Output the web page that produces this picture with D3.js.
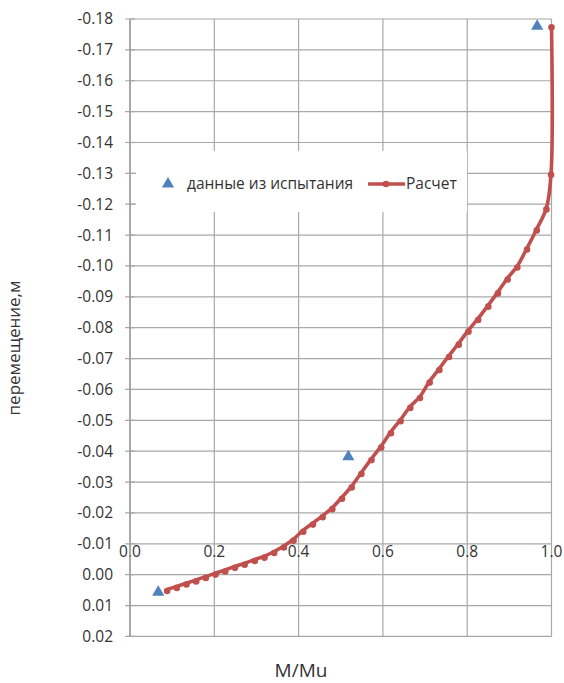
<!DOCTYPE html>
<html><head><meta charset="utf-8">
<script src="https://cdn.jsdelivr.net/npm/d3@7"></script>
<style>
body{margin:0;background:#fff}
svg{display:block}
text{font-family:"Open Sans",sans-serif;fill:#333}
</style>
</head><body>
<svg id="c" width="564" height="683"></svg>
<script>
// ---- data ----
const calcX = [0.088,0.111,0.134,0.157,0.180,0.203,0.226,0.249,0.272,0.296,
               0.319,0.342,0.365,0.388,0.411,0.434,0.457,0.480,0.503,0.526,
               0.549,0.573,0.596,0.619,0.642,0.665,0.688,0.711,0.734,0.757,
               0.780,0.803,0.826,0.850,0.873,0.896,0.919,0.942,0.965,0.988,
               0.999,1.000];
const calcY = [0.0048,0.0038,0.0027,0.0017,0.0006,-0.0005,-0.0015,-0.0027,-0.0037,-0.0049,
               -0.0060,-0.0075,-0.0093,-0.0115,-0.0144,-0.0167,-0.0191,-0.0217,-0.0251,-0.0287,
               -0.0331,-0.0376,-0.0417,-0.0463,-0.0502,-0.0545,-0.0577,-0.0627,-0.0668,-0.0710,
               -0.0750,-0.0792,-0.0830,-0.0873,-0.0916,-0.0961,-0.1000,-0.1058,-0.1120,-0.1188,
               -0.1300,-0.1778];
const testX = [0.067,0.518,0.966];
const testY = [0.0054,-0.0385,-0.1780];
const xTickValues = [0,0.2,0.4,0.6,0.8,1.0];
const xTickLabels = ["0.0","0.2","0.4","0.6","0.8","1.0"];
const yTickValues = [-0.18,-0.17,-0.16,-0.15,-0.14,-0.13,-0.12,-0.11,-0.10,-0.09,-0.08,-0.07,
                     -0.06,-0.05,-0.04,-0.03,-0.02,-0.01,0.00,0.01,0.02];
const yTickLabels = ["-0.18","-0.17","-0.16","-0.15","-0.14","-0.13","-0.12","-0.11","-0.10",
                     "-0.09","-0.08","-0.07","-0.06","-0.05","-0.04","-0.03","-0.02","-0.01",
                     "0.00","0.01","0.02"];
const seriesNames = ["данные из испытания","Расчет"];
const xTitle = "M/Mu", yTitle = "перемещение,м";

// ---- chart ----
const svg = d3.select("#c");
const L = 130, R = 551.5, T = 19, B = 636.4;
const x = d3.scaleLinear().domain([0,1]).range([L,R]);
const y = d3.scaleLinear().domain([-0.18,0.02]).range([T,B]);
const gridC = "#a8a8a8", red = "#C0504D", blue = "#4F81BD";

const grid = svg.append("g");
grid.selectAll(".h").data(yTickValues).join("line")
  .attr("x1",L-5).attr("x2",R).attr("y1",d=>y(d)).attr("y2",d=>y(d))
  .attr("stroke",gridC).attr("stroke-width",1.2);
grid.selectAll(".v").data(xTickValues).join("line")
  .attr("x1",d=>x(d)).attr("x2",d=>x(d)).attr("y1",T).attr("y2",B)
  .attr("stroke",gridC).attr("stroke-width",1.2);

// y axis
const yAxis = d3.axisLeft(y).tickValues(yTickValues)
  .tickFormat((d,i)=>yTickLabels[i]).tickSize(0).tickPadding(17);
const ga = svg.append("g").attr("transform",`translate(${L},0)`).call(yAxis);
ga.select(".domain").remove();
ga.selectAll("text").style("font-size","15.5px").style("font-family","'Open Sans',sans-serif").attr("fill","#333");

// x labels
const gx = svg.append("g");
gx.selectAll("text").data(xTickValues).join("text")
  .attr("x",d=>x(d)).attr("y",y(-0.01)+13.5).attr("text-anchor","middle")
  .style("font-size","15.5px").text((d,i)=>xTickLabels[i]);

// legend background (covers grid)
const lg = svg.append("g");
lg.append("rect").attr("x",136).attr("y",151).attr("width",331).attr("height",61).attr("fill","#fff");
// cross ticks under legend region
svg.append("g").selectAll("line").data(yTickValues).join("line")
  .attr("x1",L).attr("x2",L+5).attr("y1",d=>y(d)).attr("y2",d=>y(d))
  .attr("stroke",gridC).attr("stroke-width",1.2);
svg.append("line").attr("x1",L).attr("x2",L).attr("y1",T).attr("y2",B)
  .attr("stroke","#9a9a9a").attr("stroke-width",1.4);

// calc series
const pts = calcX.map((v,i)=>[v,calcY[i]]);
const line = d3.line().x(d=>x(d[0])).y(d=>y(d[1])).curve(d3.curveCatmullRom.alpha(0.5));
svg.append("path").datum(pts).attr("d",line).attr("fill","none")
  .attr("stroke",red).attr("stroke-width",3.6).attr("stroke-linejoin","round");
svg.append("g").selectAll("circle").data(pts).join("circle")
  .attr("cx",d=>x(d[0])).attr("cy",d=>y(d[1])+1.5).attr("r",3.3).attr("fill",red);

// test series
const tri = d3.symbol(d3.symbolTriangle, 64);
svg.append("g").selectAll("path").data(testX.map((v,i)=>[v,testY[i]])).join("path")
  .attr("d",tri).attr("transform",d=>`translate(${x(d[0])},${y(d[1])+1})`).attr("fill",blue);

// legend content
lg.append("path").attr("d",tri).attr("transform","translate(168,184)").attr("fill",blue);
lg.append("text").attr("x",187).attr("y",189).style("font-size","15.5px").text(seriesNames[0]);
lg.append("line").attr("x1",368).attr("x2",405).attr("y1",184).attr("y2",184)
  .attr("stroke",red).attr("stroke-width",3.6);
lg.append("circle").attr("cx",386).attr("cy",184).attr("r",3.3).attr("fill",red);
lg.append("text").attr("x",406).attr("y",189).style("font-size","15.5px").text(seriesNames[1]);

// titles
svg.append("text").attr("x",301).attr("y",677).attr("text-anchor","middle")
  .style("font-size","19px").text(xTitle);
svg.append("text").attr("transform","translate(20,348) rotate(-90)").attr("text-anchor","middle")
  .style("font-size","17px").text(yTitle);
</script>
</body></html>
